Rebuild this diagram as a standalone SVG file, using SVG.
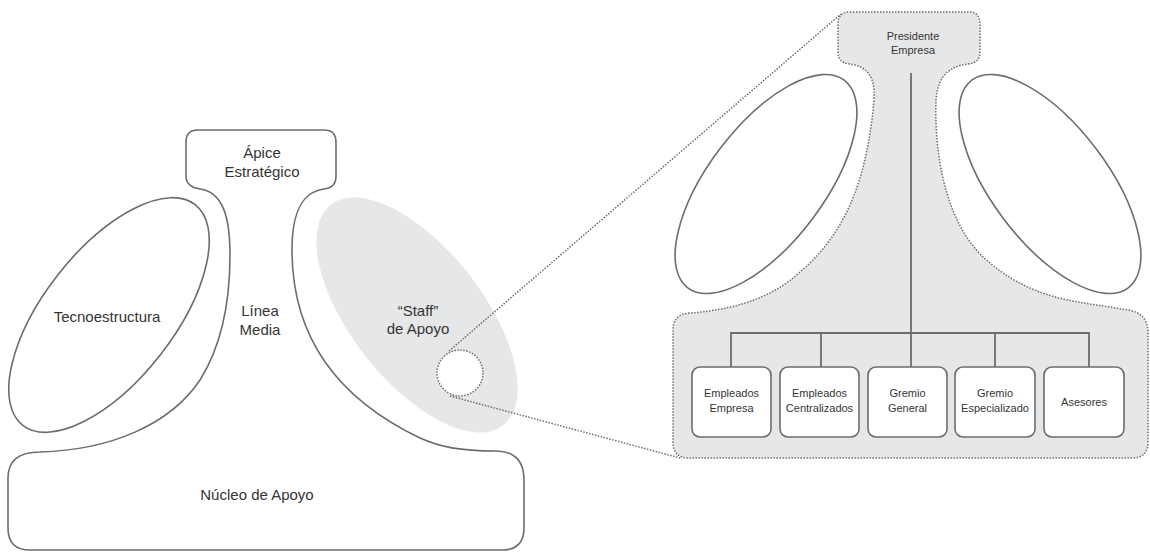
<svg xmlns="http://www.w3.org/2000/svg" width="1150" height="552" viewBox="0 0 1150 552">
<style>
.solid{fill:#fff;stroke:#6d6d6d;stroke-width:1.6}
.dot{stroke:#6d6d6d;stroke-width:1.5;stroke-dasharray:1.5 1.5}
.gray{fill:#e6e7e8}
.t{font-family:"Liberation Sans",Arial,sans-serif;fill:#353535;text-anchor:middle}
.big{font-size:15px}
.small{font-size:11px}
.line{fill:none;stroke:#6d6d6d;stroke-width:1.8}
</style>
<rect width="1150" height="552" fill="#fff"/>
<g id="organizacion">
<path class="solid" d="M198,130 H324 Q336,130 336,142 V176 Q336,188 324,189 C302,192 292,212 292,250 C292,330 330,395 420,438 C440,447 460,451 495,451 Q524,451 524,480 V528 Q524,550 502,550 H30 Q8,550 8,528 V478 Q8,452 40,452 C110,450 170,425 200,380 C222,345 230,300 230,255 C230,215 222,192 200,189 Q186,187 186,176 V142 Q186,130 198,130 Z"/>
</g>
<g id="apice"><text class="t big" x="262" y="158">Ápice</text><text class="t big" x="262" y="177">Estratégico</text></g>
<g id="tecnoestructura">
<ellipse class="solid" cx="109" cy="315" rx="140" ry="65" transform="rotate(-52 109 315)"/>
<text class="t big" x="107" y="322">Tecnoestructura</text>
</g>
<g id="linea-media"><text class="t big" x="260" y="316">Línea</text><text class="t big" x="260" y="335">Media</text></g>
<g id="staff">
<ellipse class="gray" cx="417" cy="315" rx="140" ry="66" transform="rotate(52 417 315)"/>
<text class="t big" x="418" y="316">“Staff”</text><text class="t big" x="418" y="334">de Apoyo</text>
</g>
<g id="nucleo"><text class="t big" x="257" y="500">Núcleo de Apoyo</text></g>
<g id="staff-detalle">
<path class="gray dot" d="M850,12 H969 Q980,12 980,24 V52 Q980,63 968,64 C950,66 938,75 936,100 C934,160 948,230 990,263 C1020,288 1050,298 1090,304 L1128,310 Q1148,313 1148,333 V442 Q1148,458 1132,458 H689 Q673,458 673,442 V330 Q673,314 690,313 C730,310 770,300 800,272 C850,230 868,170 874,100 C876,75 865,66 850,64 Q838,63 838,52 V24 Q838,12 850,12 Z"/>
<ellipse class="solid" cx="766" cy="184" rx="130" ry="58" transform="rotate(-53 766 184)"/>
<ellipse class="solid" cx="1050" cy="184" rx="130" ry="58" transform="rotate(53 1050 184)"/>
</g>
<g id="zoom-circle"><circle class="dot" cx="460" cy="373" r="23" fill="#fff"/></g>
<g id="connectors">
<line class="dot" x1="449" y1="351" x2="841" y2="14" fill="none"/>
<line class="dot" x1="450" y1="396" x2="680" y2="458" fill="none"/>
<path class="line" d="M911,73 V333 M731,367 V333 H1089 V367 M821,333 V367 M911,333 V367 M995,333 V367"/>
</g>
<g id="presidente"><text class="t small" x="913" y="40">Presidente</text><text class="t small" x="913" y="54">Empresa</text></g>
<g id="empleados-empresa"><rect class="solid" x="692" y="367" width="79" height="70" rx="8"/><text class="t small" x="731.5" y="397">Empleados</text><text class="t small" x="731.5" y="412">Empresa</text></g>
<g id="empleados-centralizados"><rect class="solid" x="780" y="367" width="79" height="70" rx="8"/><text class="t small" x="819.5" y="397">Empleados</text><text class="t small" x="819.5" y="412">Centralizados</text></g>
<g id="gremio-general"><rect class="solid" x="868" y="367" width="79" height="70" rx="8"/><text class="t small" x="907.5" y="397">Gremio</text><text class="t small" x="907.5" y="412">General</text></g>
<g id="gremio-especializado"><rect class="solid" x="955" y="367" width="80" height="70" rx="8"/><text class="t small" x="995" y="397">Gremio</text><text class="t small" x="995" y="412">Especializado</text></g>
<g id="asesores"><rect class="solid" x="1044" y="367" width="80" height="70" rx="8"/><text class="t small" x="1084" y="406">Asesores</text></g>
</svg>
